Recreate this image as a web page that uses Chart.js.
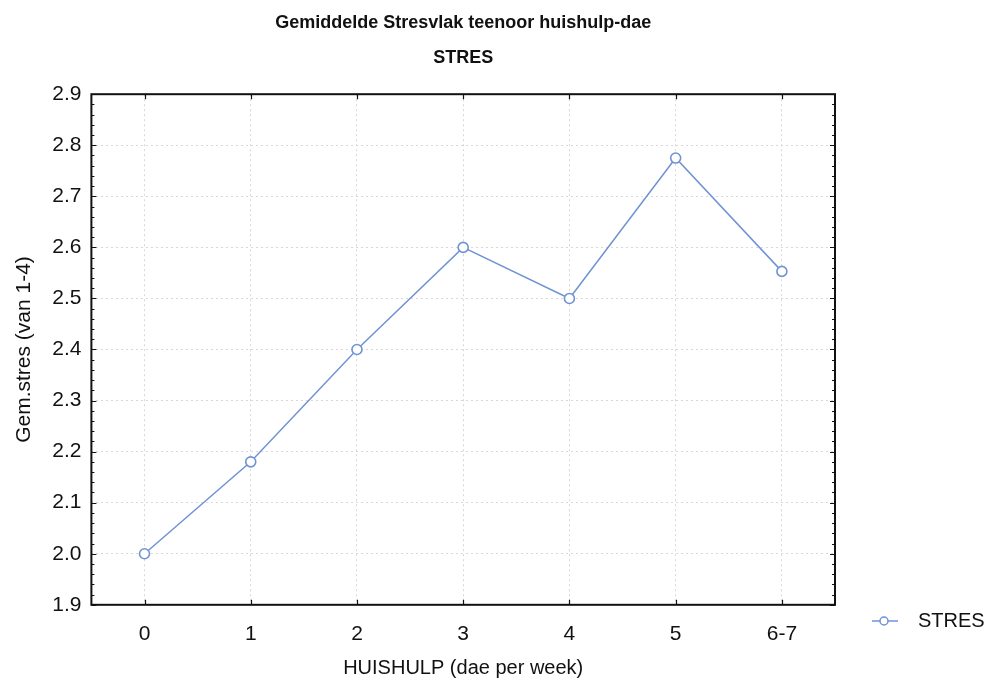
<!DOCTYPE html>
<html>
<head>
<meta charset="utf-8">
<script src="https://cdn.jsdelivr.net/npm/chart.js@4/dist/chart.umd.min.js"></script>
<style>
  html, body { margin: 0; padding: 0; background: #fff; }
  #wrap { width: 989px; height: 681px; }
</style>
</head>
<body>
<div id="wrap"><canvas id="stresChart"></canvas></div>
<script>
// data
const categories = ['0', '1', '2', '3', '4', '5', '6-7'];
const stresValues = [2.00, 2.18, 2.40, 2.60, 2.50, 2.775, 2.553];
const yTicks = [1.9, 2.0, 2.1, 2.2, 2.3, 2.4, 2.5, 2.6, 2.7, 2.8, 2.9];

const lineColor = '#7193d4';
const narrow = "'Liberation Sans Narrow', 'Arial Narrow', 'Liberation Sans', Arial, sans-serif";
const plain = "'Liberation Sans', Arial, sans-serif";

// frame, inward ticks and the legend on the right
const framePlugin = {
    id: 'frame',
    afterDraw(chart) {
        const ctx = chart.ctx;
        const a = chart.chartArea;
        const x = chart.scales.x;
        const y = chart.scales.y;
        ctx.save();
        ctx.strokeStyle = '#111';
        ctx.lineWidth = 1.2;
        // minor ticks on left and right
        for (let v = 1.9; v <= 2.9001; v += 0.02) {
            const py = Math.round(y.getPixelForValue(v)) + 0.5;
            const major = Math.abs(v * 10 - Math.round(v * 10)) < 0.01;
            const len = major ? 5 : 3;
            ctx.beginPath();
            ctx.moveTo(a.left, py); ctx.lineTo(a.left + len, py);
            ctx.moveTo(a.right, py); ctx.lineTo(a.right - len, py);
            ctx.stroke();
        }
        // category ticks top and bottom
        categories.forEach((c, i) => {
            const px = Math.round(x.getPixelForValue(i)) + 0.5;
            ctx.beginPath();
            ctx.moveTo(px, a.top); ctx.lineTo(px, a.top + 5);
            ctx.moveTo(px, a.bottom); ctx.lineTo(px, a.bottom - 5);
            ctx.stroke();
        });
        // border
        ctx.lineWidth = 2;
        ctx.strokeRect(a.left, a.top, a.right - a.left, a.bottom - a.top);

        // legend
        const ds = chart.data.datasets[0];
        const ly = 621;
        const lx = a.right + 37;
        ctx.strokeStyle = ds.borderColor;
        ctx.lineWidth = 1.5;
        ctx.beginPath();
        ctx.moveTo(lx, ly); ctx.lineTo(lx + 26, ly);
        ctx.stroke();
        ctx.fillStyle = '#fff';
        ctx.beginPath();
        ctx.arc(lx + 12, ly, 4, 0, Math.PI * 2);
        ctx.fill();
        ctx.stroke();
        ctx.fillStyle = '#111';
        ctx.font = '20px ' + plain;
        ctx.textBaseline = 'middle';
        ctx.fillText(ds.label, lx + 46, ly);
        ctx.restore();
    }
};

new Chart(document.getElementById('stresChart'), {
    type: 'line',
    data: {
        labels: categories,
        datasets: [{
            label: 'STRES',
            data: stresValues,
            borderColor: lineColor,
            backgroundColor: '#fff',
            borderWidth: 1.5,
            pointRadius: 5,
            pointBorderWidth: 1.6,
            pointBackgroundColor: '#fff',
            pointBorderColor: lineColor,
            tension: 0
        }]
    },
    options: {
        responsive: true,
        maintainAspectRatio: false,
        animation: false,
        layout: { padding: { right: 154, top: 2, left: 8, bottom: 0 } },
        plugins: {
            legend: { display: false },
            tooltip: { enabled: false },
            title: {
                display: true,
                text: 'Gemiddelde Stresvlak teenoor huishulp-dae',
                fullSize: false,
                color: '#111',
                font: { family: narrow, size: 18, weight: 'bold' },
                padding: { top: 10, bottom: 8 }
            },
            subtitle: {
                display: true,
                text: 'STRES',
                fullSize: false,
                color: '#111',
                font: { family: narrow, size: 18, weight: 'bold' },
                padding: { top: 6, bottom: 25 }
            }
        },
        scales: {
            x: {
                type: 'category',
                offset: true,
                grid: {
                    offset: false,
                    color: '#d8d8d8',
                    lineWidth: 1,
                    drawTicks: false
                },
                border: { display: false, dash: [2, 3] },
                ticks: {
                    color: '#111',
                    font: { family: plain, size: 21 },
                    padding: 17
                },
                title: {
                    display: true,
                    text: 'HUISHULP (dae per week)',
                    color: '#111',
                    font: { family: narrow, size: 20, lineHeight: 1 },
                    padding: { top: -6, bottom: 3 }
                }
            },
            y: {
                min: 1.9,
                max: 2.9,
                afterBuildTicks(scale) {
                    scale.ticks = yTicks.map(v => ({ value: v }));
                },
                grid: {
                    color: '#d8d8d8',
                    lineWidth: 1,
                    drawTicks: false
                },
                border: { display: false, dash: [2, 3] },
                ticks: {
                    color: '#111',
                    font: { family: plain, size: 21 },
                    padding: 10,
                    callback: v => Number(v).toFixed(1)
                },
                title: {
                    display: true,
                    text: 'Gem.stres (van 1-4)',
                    color: '#111',
                    font: { family: plain, size: 21 },
                    padding: { bottom: 5 }
                }
            }
        }
    },
    plugins: [framePlugin]
});
</script>
</body>
</html>
